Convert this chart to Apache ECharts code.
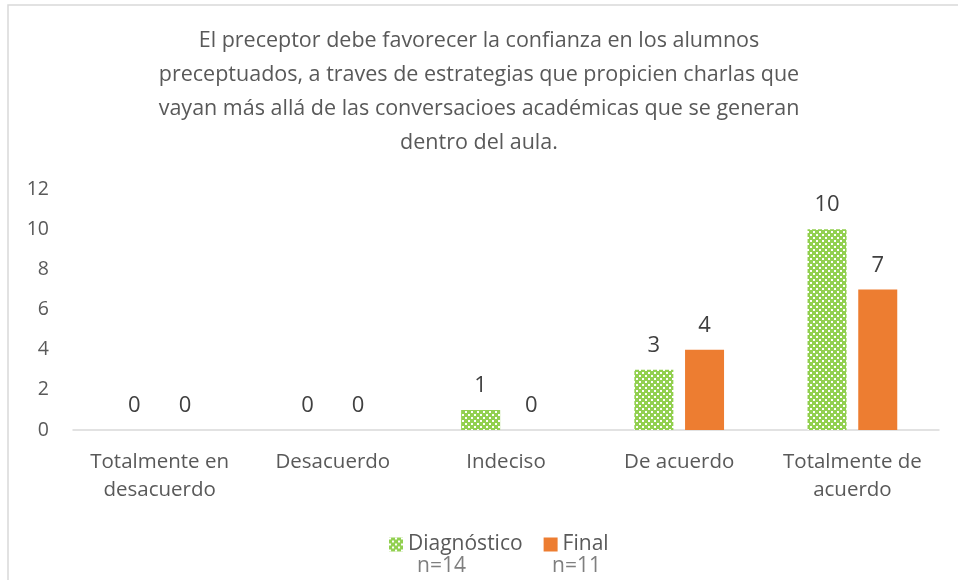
<!DOCTYPE html>
<html>
<head>
<meta charset="utf-8">
<script src="https://cdn.jsdelivr.net/npm/echarts@6/dist/echarts.min.js"></script>
<style>
  html, body { margin: 0; padding: 0; background: #fff; }
  #chart { width: 958px; height: 580px; }
</style>
</head>
<body>
<div id="chart"></div>
<script>
var categorias = ['Totalmente en\ndesacuerdo', 'Desacuerdo', 'Indeciso', 'De acuerdo', 'Totalmente de\nacuerdo'];
var diagnostico = [0, 0, 1, 3, 10];
var finales = [0, 0, 0, 4, 7];
var nombres = ['Diagnóstico', 'Final'];
var muestras = ['n=14', 'n=11'];

// patrón cuadriculado verde/blanco como en Excel
function patron() {
    var c = document.createElement('canvas');
    c.width = 6; c.height = 6;
    var ctx = c.getContext('2d');
    ctx.fillStyle = '#92D050';
    ctx.fillRect(0, 0, 6, 6);
    ctx.fillStyle = '#ffffff';
    ctx.fillRect(0, 0, 2, 2);
    ctx.fillRect(3, 3, 2, 2);
    return c;
}

var fuente = '"Open Sans", sans-serif';
var myChart = echarts.init(document.getElementById('chart'));

var option = {
    backgroundColor: '#fff',
    animation: false,
    title: {
        text: 'El preceptor debe favorecer la confianza en los alumnos\npreceptuados, a traves de estrategias que propicien charlas que\nvayan más allá de las conversacioes académicas que se generan\ndentro del aula.',
        left: 'center',
        top: 19,
        textStyle: {
            fontFamily: fuente,
            fontSize: 21.5,
            fontWeight: 'normal',
            color: '#595959',
            lineHeight: 34,
            align: 'center'
        }
    },
    legend: {
        bottom: 20,
        left: 384,
        itemWidth: 14,
        itemHeight: 14,
        itemGap: 21,
        icon: 'rect',
        textStyle: { fontFamily: fuente, fontSize: 21, color: '#595959' },
        data: nombres
    },
    grid: { left: 73, right: 19, top: 189, bottom: 150 },
    xAxis: {
        type: 'category',
        data: categorias,
        axisLine: { lineStyle: { color: '#d9d9d9', width: 1.5 } },
        axisTick: { show: false },
        axisLabel: {
            interval: 0,
            fontFamily: fuente, fontSize: 20.5, color: '#595959',
            lineHeight: 28, margin: 18
        }
    },
    yAxis: {
        type: 'value',
        min: 0, max: 12, interval: 2,
        splitLine: { show: false },
        axisLine: { show: false },
        axisTick: { show: false },
        axisLabel: { fontFamily: fuente, fontSize: 19.5, color: '#595959', margin: 24 }
    },
    series: [
        {
            name: nombres[0],
            type: 'bar',
            data: diagnostico,
            barWidth: 39,
            barGap: '30%',
            itemStyle: { color: { image: patron(), repeat: 'repeat' } },
            label: { show: true, position: 'top', distance: 13, fontFamily: fuente, fontSize: 22, color: '#404040' }
        },
        {
            name: nombres[1],
            type: 'bar',
            data: finales,
            barWidth: 39,
            itemStyle: { color: '#ED7D31' },
            label: { show: true, position: 'top', distance: 13, fontFamily: fuente, fontSize: 22, color: '#404040' }
        }
    ],
    graphic: [
        { type: 'rect', shape: { x: 8, y: 5, width: 980, height: 600 }, style: { fill: 'none', stroke: '#d9d9d9', lineWidth: 1.5 }, silent: true },
        { type: 'text', left: 417, top: 556, style: { text: muestras[0], font: '21px ' + fuente, fill: '#7f7f7f' } },
        { type: 'text', left: 552, top: 556, style: { text: muestras[1], font: '21px ' + fuente, fill: '#7f7f7f' } }
    ]
};

myChart.setOption(option);
window.addEventListener('resize', function () { myChart.resize(); });
</script>
</body>
</html>
